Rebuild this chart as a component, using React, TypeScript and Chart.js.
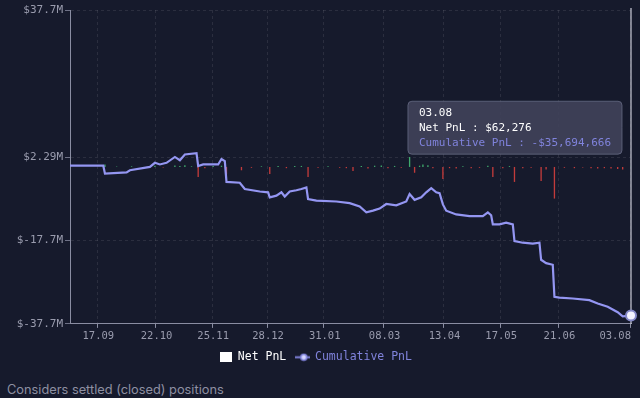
import React, { useEffect, useRef } from 'react';
import { Chart, registerables, Tooltip } from 'chart.js';

Chart.register(...registerables);

// ---------- data ----------
const START_DATE = '2022-08-31';
const DAY_COUNT = 338;

const X_TICKS = ['17.09', '22.10', '25.11', '28.12', '31.01', '08.03', '13.04', '17.05', '21.06', '03.08'];
const Y_TICKS = [-37.7, -17.7, 2.29, 37.7];
const Y_MIN = -37.7;
const Y_MAX = 37.7;

// Cumulative PnL (millions of $)
const CUM_DATES = [
  '31.08', '20.09', '21.09', '04.10', '06.10', '18.10', '21.10', '24.10', '28.10', '02.11',
  '05.11', '08.11', '15.11', '16.11', '19.11', '28.11', '30.11', '02.12', '03.12', '11.12',
  '14.12', '23.12', '28.12', '29.12', '02.01', '05.01', '07.01', '10.01', '14.01', '17.01',
  '20.01', '21.01', '26.01', '07.02', '15.02', '21.02', '25.02', '01.03', '05.03', '09.03',
  '15.03', '21.03', '23.03', '26.03', '30.03', '02.04', '05.04', '08.04', '10.04', '12.04',
  '14.04', '20.04', '28.04', '06.05', '09.05', '11.05', '12.05', '16.05', '20.05', '24.05',
  '25.05', '30.05', '05.06', '09.06', '10.06', '13.06', '17.06', '18.06', '21.06', '29.06',
  '09.07', '14.07', '20.07', '26.07', '29.07', '03.08',
];
const CUM_VALUES = [
  0.3, 0.3, -1.6, -1.3, -0.8, 0.0, 1.0, 0.6, 1.0, 2.4,
  1.6, 3.0, 3.3, 0.2, 0.6, 0.6, 1.9, 1.4, -3.6, -3.8,
  -5.3, -5.9, -6.1, -7.3, -6.9, -6.1, -7.1, -5.9, -5.6, -5.3,
  -4.9, -7.7, -8.1, -8.3, -8.7, -9.5, -10.9, -10.5, -10.0, -8.9,
  -9.2, -8.3, -6.5, -7.9, -7.3, -6.1, -5.1, -6.1, -6.3, -9.0,
  -10.5, -11.4, -11.8, -11.8, -10.9, -11.6, -13.8, -13.8, -13.4, -13.8,
  -17.8, -18.2, -18.4, -18.2, -22.3, -23.1, -23.5, -31.2, -31.4, -31.6,
  -32.0, -32.8, -33.6, -34.9, -35.9, -35.694666,
];

// Net PnL (millions of $)
const NET_DATES = [
  '21.09', '28.09', '07.10', '14.10', '21.10', '26.10', '02.11', '05.11', '08.11', '12.11',
  '16.11', '20.11', '25.11', '30.11', '03.12', '12.12', '18.12', '24.12', '29.12', '03.01',
  '08.01', '13.01', '17.01', '21.01', '27.01', '02.02', '09.02', '13.02', '17.02', '22.02',
  '26.02', '02.03', '06.03', '10.03', '14.03', '18.03', '23.03', '26.03', '29.03', '31.03',
  '03.04', '06.04', '12.04', '16.04', '20.04', '24.04', '29.04', '04.05', '09.05', '12.05',
  '18.05', '22.05', '25.05', '30.05', '04.06', '10.06', '13.06', '18.06', '24.06', '30.06',
  '05.07', '10.07', '14.07', '18.07', '22.07', '26.07', '29.07', '03.08',
];
const NET_VALUES = [
  0.6, 0.1, 0.15, -0.1, 0.3, -0.15, 0.35, 0.2, 0.4, 0.15,
  -2.4, -0.3, 0.2, 0.3, -1.8, -0.8, -0.2, 0.15, -1.7, 0.2,
  -0.3, 0.2, 0.25, -2.4, -0.2, 0.15, -0.2, -0.3, -1.0, 0.2,
  -0.4, 0.3, 0.35, -0.3, 0.25, -0.2, 2.4, -1.4, 0.3, 0.6,
  0.4, -0.3, -2.9, -0.3, -0.4, 0.15, -0.3, -0.2, 0.3, -2.4,
  -0.3, 0.2, -3.6, -0.3, -0.2, -3.4, -0.6, -7.6, -0.2, -0.3,
  -0.15, -0.3, -0.4, -0.3, -0.4, -0.5, -0.6, 0.062276,
];

// ---------- styles ----------
const BG = '#161a2c';
const LINE_COLOR = '#9496f2';
const PURPLE_TEXT = '#8083dc';
const MONO = '"DejaVu Sans Mono", monospace';
const AXIS_COLOR = '#8a8da2';
const TICK_TEXT = '#9a9cae';
const GRID_COLOR = 'rgba(255,255,255,0.09)';
const GREEN = '#3fa96c';
const RED = '#c23b3b';

function buildLabels(): string[] {
  const [y, m, d] = START_DATE.split('-').map(Number);
  const out: string[] = [];
  for (let i = 0; i < DAY_COUNT; i++) {
    const dt = new Date(Date.UTC(y, m - 1, d + i));
    out.push(String(dt.getUTCDate()).padStart(2, '0') + '.' + String(dt.getUTCMonth() + 1).padStart(2, '0'));
  }
  return out;
}

function fmtMoney(vM: number): string {
  const n = Math.round(vM * 1e6);
  return (n < 0 ? '-' : '') + '$' + Math.abs(n).toLocaleString('en-US');
}

function makeNetIcon(): HTMLCanvasElement {
  const c = document.createElement('canvas');
  c.width = 12; c.height = 10;
  const g = c.getContext('2d')!;
  g.fillStyle = '#ffffff';
  g.fillRect(0, 0, 12, 10);
  return c;
}

function makeCumIcon(): HTMLCanvasElement {
  const c = document.createElement('canvas');
  c.width = 15; c.height = 9;
  const g = c.getContext('2d')!;
  g.strokeStyle = PURPLE_TEXT;
  g.lineWidth = 2;
  g.beginPath(); g.moveTo(0, 4.5); g.lineTo(15, 4.5); g.stroke();
  g.beginPath(); g.arc(8.5, 4.5, 3, 0, Math.PI * 2);
  g.fillStyle = '#d6d7ff'; g.fill();
  g.lineWidth = 1.5; g.stroke();
  return c;
}

(Tooltip.positioners as any).pnlFixed = function (items: any[]) {
  if (!items.length) return false;
  const ca = this.chart.chartArea;
  const el = items[items.length - 1].element;
  return { x: el.x, y: ca.top + ca.height * 0.375 };
};

const crosshair = {
  id: 'crosshair',
  beforeDatasetsDraw(chart: any) {
    const act = chart.getActiveElements();
    if (!act.length) return;
    const x = act[0].element.x;
    const { top, bottom } = chart.chartArea;
    const ctx = chart.ctx;
    ctx.save();
    ctx.strokeStyle = 'rgba(190,192,205,0.85)';
    ctx.lineWidth = 1.5;
    ctx.beginPath();
    ctx.moveTo(x, top - 2);
    ctx.lineTo(x, bottom);
    ctx.stroke();
    ctx.restore();
  },
};

export default function App() {
  const ref = useRef<HTMLCanvasElement | null>(null);

  useEffect(() => {
    document.body.style.margin = '0';
    document.body.style.background = BG;
    document.documentElement.style.background = BG;
    const labels = buildLabels();
    const tickSet = new Set(X_TICKS);
    const netIcon = makeNetIcon();
    const cumIcon = makeCumIcon();

    const chart = new Chart(ref.current!, {
      type: 'line',
      data: {
        labels,
        datasets: [
          {
            type: 'bar',
            label: 'Net PnL',
            data: NET_DATES.map((d, i) => ({ x: d, y: NET_VALUES[i] })),
            backgroundColor: (c: any) => ((c.raw && c.raw.y >= 0) ? GREEN : RED),
            hoverBackgroundColor: (c: any) => ((c.raw && c.raw.y >= 0) ? GREEN : RED),
            barPercentage: 1,
            categoryPercentage: 0.8,
            order: 2,
          } as any,
          {
            type: 'line',
            label: 'Cumulative PnL',
            data: CUM_DATES.map((d, i) => ({ x: d, y: CUM_VALUES[i] })),
            borderColor: LINE_COLOR,
            borderWidth: 2.2,
            pointRadius: 0,
            pointHoverRadius: 5,
            pointHoverBackgroundColor: '#f4f4ff',
            pointHoverBorderColor: '#8589c8',
            pointHoverBorderWidth: 2,
            tension: 0,
            clip: 10,
            order: 1,
          } as any,
        ],
      },
      options: {
        responsive: false,
        animation: false,
        devicePixelRatio: 1,
        events: [],
        layout: { padding: { top: 10, right: 9, left: 0, bottom: 0 } },
        scales: {
          x: {
            type: 'category',
            offset: false,
            border: { display: true, color: AXIS_COLOR, width: 1, dash: [3, 3] },
            grid: {
              color: (c: any) => (tickSet.has(labels[c.index]) ? GRID_COLOR : 'transparent'),
              tickColor: (c: any) => (tickSet.has(labels[c.index]) ? AXIS_COLOR : 'transparent'),
              tickLength: 4,
              drawTicks: true,
            },
            afterFit: (scale: any) => {
              scale.height -= 3;
            },
            ticks: {
              autoSkip: false,
              maxRotation: 0,
              minRotation: 0,
              align: 'inner',
              padding: 2,
              color: TICK_TEXT,
              font: { family: MONO, size: 10.5 },
              callback: (_v: any, i: number) => (tickSet.has(labels[i]) ? labels[i] : ''),
            },
          },
          y: {
            type: 'linear',
            min: Y_MIN,
            max: Y_MAX,
            border: { display: true, color: AXIS_COLOR, width: 1, dash: [3, 3] },
            grid: { color: GRID_COLOR, tickColor: '#6e7186', tickLength: 5 },
            afterBuildTicks: (scale: any) => {
              scale.ticks = Y_TICKS.map((v) => ({ value: v }));
            },
            afterFit: (scale: any) => {
              scale.width = 70;
            },
            ticks: {
              padding: 2,
              color: TICK_TEXT,
              font: { family: MONO, size: 11 },
              callback: (v: any) => `$${v}M`,
            },
          },
        },
        plugins: {
          legend: {
            position: 'bottom',
            labels: {
              usePointStyle: true,
              pointStyleWidth: 13,
              padding: 10,
              font: { family: MONO, size: 11.5 },
              generateLabels: () => [
                { text: 'Net PnL', pointStyle: netIcon, fontColor: '#ffffff', fillStyle: '#ffffff', strokeStyle: '#ffffff', lineWidth: 0, hidden: false, datasetIndex: 0 },
                { text: 'Cumulative PnL', pointStyle: cumIcon, fontColor: PURPLE_TEXT, fillStyle: LINE_COLOR, strokeStyle: LINE_COLOR, lineWidth: 0, hidden: false, datasetIndex: 1 },
              ] as any,
            },
          },
          tooltip: {
            enabled: true,
            position: 'pnlFixed' as any,
            xAlign: 'right',
            yAlign: 'center',
            caretSize: 0,
            caretPadding: 9,
            backgroundColor: 'rgba(64,67,90,0.9)',
            borderColor: 'rgba(110,114,140,0.7)',
            borderWidth: 1,
            cornerRadius: 4,
            displayColors: false,
            titleColor: '#ffffff',
            titleFont: { family: MONO, size: 11, weight: 'normal' as any, lineHeight: 1.15 },
            bodyFont: { family: MONO, size: 11, lineHeight: 1.15 },
            titleMarginBottom: 2,
            bodySpacing: 2,
            padding: { top: 6, bottom: 5, left: 11, right: 11 },
            callbacks: {
              label: (c: any) => `${c.dataset.label} : ${fmtMoney(c.raw.y)}`,
              labelTextColor: (c: any) => (c.datasetIndex === 1 ? PURPLE_TEXT : '#ffffff'),
            },
          },
        },
      },
      plugins: [crosshair],
    } as any);

    const active = [
      { datasetIndex: 0, index: NET_DATES.length - 1 },
      { datasetIndex: 1, index: CUM_DATES.length - 1 },
    ];
    chart.setActiveElements(active);
    chart.tooltip!.setActiveElements(active, { x: 0, y: 0 });
    chart.update();

    return () => chart.destroy();
  }, []);

  return (
    <div style={{ width: 640, background: BG }}>
      <canvas ref={ref} width={640} height={373} style={{ display: 'block' }} />
      <div
        style={{
          fontFamily: 'Inter, "Noto Sans", sans-serif',
          fontSize: 12.8,
          color: '#8e90a2',
          paddingLeft: 7,
          paddingTop: 9,
          lineHeight: '16px',
          height: 16,
        }}
      >
        Considers settled (closed) positions
      </div>
    </div>
  );
}
